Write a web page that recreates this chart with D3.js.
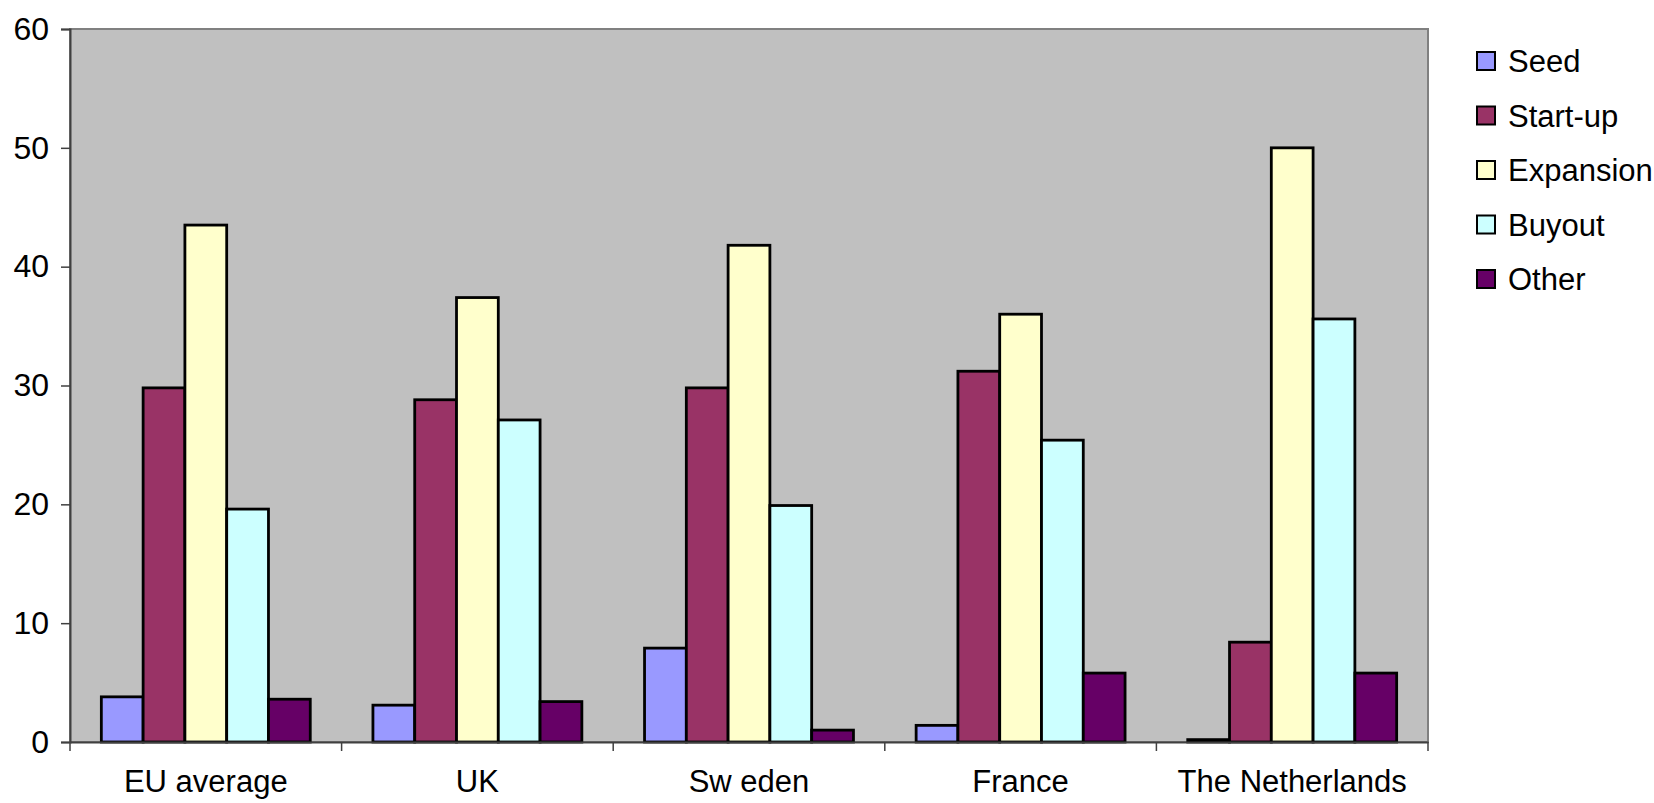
<!DOCTYPE html>
<html>
<head>
<meta charset="utf-8">
<script src="https://cdn.jsdelivr.net/npm/d3@7"></script>
<style>
  body { margin: 0; background: #fff; }
  text { font-family: "Liberation Sans", Arial, sans-serif; }
</style>
</head>
<body>
<svg width="1654" height="803"></svg>
<script>
// data
const categories = ["EU average", "UK", "Sw eden", "France", "The Netherlands"];
const seriesNames = ["Seed", "Start-up", "Expansion", "Buyout", "Other"];
const seed      = [3.8, 3.1, 7.9, 1.4, 0.2];
const startUp   = [29.8, 28.8, 29.8, 31.2, 8.4];
const expansion = [43.5, 37.4, 41.8, 36.0, 50.0];
const buyout    = [19.6, 27.1, 19.9, 25.4, 35.6];
const other     = [3.6, 3.4, 1.0, 5.8, 5.8];
const yTicks = [0, 10, 20, 30, 40, 50, 60];
const colors = ["#9999FF", "#993366", "#FFFFCC", "#CCFFFF", "#660066"];

const values = [seed, startUp, expansion, buyout, other];

const plotL = 70, plotR = 1428, plotT = 29, plotB = 742;

const svg = d3.select("svg");

const x0 = d3.scaleBand()
    .domain(categories)
    .range([plotL, plotR])
    .padding(0);

const x1 = d3.scaleBand()
    .domain(seriesNames)
    .range([0, x0.bandwidth()])
    .paddingInner(0)
    .paddingOuter(0.75);

const y = d3.scaleLinear()
    .domain([0, 60])
    .range([plotB, plotT]);

// plot background
svg.append("rect")
    .attr("x", plotL)
    .attr("y", plotT)
    .attr("width", plotR - plotL)
    .attr("height", plotB - plotT)
    .attr("fill", "#C0C0C0")
    .attr("stroke", "#808080")
    .attr("stroke-width", 2);

// bars
const rows = [];
categories.forEach((c, i) => {
    seriesNames.forEach((s, j) => {
        rows.push({cat: c, series: s, value: values[j][i], color: colors[j]});
    });
});

svg.append("g")
    .selectAll("rect")
    .data(rows)
    .enter()
    .append("rect")
    .attr("x", d => x0(d.cat) + x1(d.series))
    .attr("y", d => y(d.value))
    .attr("width", x1.bandwidth())
    .attr("height", d => y(0) - y(d.value))
    .attr("fill", d => d.color)
    .attr("stroke", "#000")
    .attr("stroke-width", 2.8);

// y axis
const yAxis = svg.append("g")
    .attr("transform", `translate(${plotL},0)`)
    .call(d3.axisLeft(y).tickValues(yTicks).tickSize(9).tickPadding(12));
yAxis.selectAll("text").attr("font-size", 32).attr("fill", "#000")
    .style("font-family", "'Liberation Sans', Arial, sans-serif");
yAxis.select(".domain").attr("stroke", "#404040").attr("stroke-width", 2);
yAxis.selectAll(".tick line").attr("stroke", "#404040").attr("stroke-width", 1.5);

// x axis (labels centred, ticks between categories)
const xAxis = svg.append("g")
    .attr("transform", `translate(0,${plotB})`)
    .call(d3.axisBottom(x0).tickSize(0).tickPadding(28).tickSizeOuter(0));
xAxis.selectAll("text").attr("font-size", 31).attr("fill", "#000")
    .style("font-family", "'Liberation Sans', Arial, sans-serif");
xAxis.select(".domain").attr("stroke", "#404040").attr("stroke-width", 2);

const bounds = categories.map(c => x0(c)).concat([plotR]);
xAxis.selectAll(".sep")
    .data(bounds)
    .enter()
    .append("line")
    .attr("class", "sep")
    .attr("x1", d => d)
    .attr("x2", d => d)
    .attr("y1", 0)
    .attr("y2", 9)
    .attr("stroke", "#404040")
    .attr("stroke-width", 1.5);

// legend
const legend = svg.append("g")
    .selectAll("g")
    .data(seriesNames)
    .enter()
    .append("g")
    .attr("transform", (d, i) => `translate(1477,${61 + i * 54.5})`);

legend.append("rect")
    .attr("x", 0)
    .attr("y", -9)
    .attr("width", 18)
    .attr("height", 18)
    .attr("fill", (d, i) => colors[i])
    .attr("stroke", "#000")
    .attr("stroke-width", 2);

legend.append("text")
    .attr("x", 31)
    .attr("y", 0)
    .attr("dy", "0.36em")
    .attr("font-size", 31)
    .text(d => d);
</script>
</body>
</html>
